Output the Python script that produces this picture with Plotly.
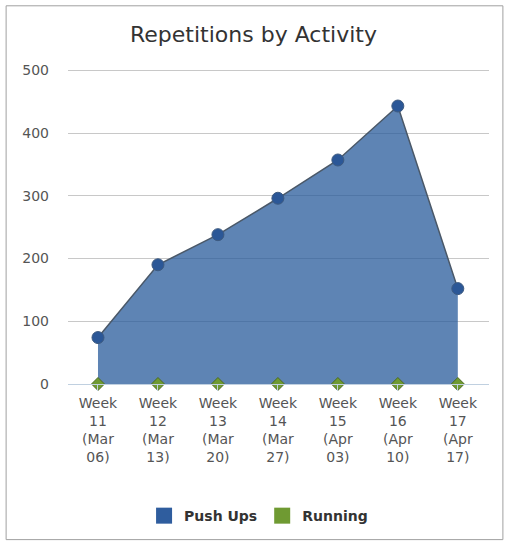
import plotly.graph_objects as go

# Weekly data
weeks = ["Week 11", "Week 12", "Week 13", "Week 14", "Week 15", "Week 16", "Week 17"]
week_dates = ["(Mar 06)", "(Mar 13)", "(Mar 20)", "(Mar 27)", "(Apr 03)", "(Apr 10)", "(Apr 17)"]
push_ups = [74, 190, 238, 296, 357, 443, 152]
running = [0, 0, 0, 0, 0, 0, 0]
y_ticks = [0, 100, 200, 300, 400, 500]

# wrapped tick labels, one word per line like the original
tick_labels = ["<br>".join(w.split() + d.split()) for w, d in zip(weeks, week_dates)]
x_pos = list(range(len(weeks)))

fig = go.Figure()

# Push Ups area
fig.add_trace(go.Scatter(
    x=x_pos, y=push_ups, name="Push Ups", mode="lines+markers",
    fill="tozeroy", fillcolor="rgba(40,91,155,0.75)",
    line=dict(color="#4a5868", width=1.5),
    marker=dict(color="#2b5797", size=12, line=dict(color="#3d5a80", width=1)),
    showlegend=False, cliponaxis=False,
))
# Running (all zero)
fig.add_trace(go.Scatter(
    x=x_pos, y=running, name="Running", mode="markers",
    marker=dict(color="#6f9a32", symbol="diamond", size=10, line=dict(color="#4d6b22", width=1)),
    showlegend=False, cliponaxis=False,
))

# legend-only entries so the legend shows big squares
fig.add_trace(go.Scatter(x=[None], y=[None], name="Push Ups", mode="markers",
                         marker=dict(symbol="square", size=16, color="#2f5d9e")))
fig.add_trace(go.Scatter(x=[None], y=[None], name="Running", mode="markers",
                         marker=dict(symbol="square", size=16, color="#6f9a32")))

fig.update_layout(
    width=507, height=549,
    paper_bgcolor="white", plot_bgcolor="white",
    margin=dict(l=68, r=18, t=69, b=165),
    font=dict(family="DejaVu Sans", color="#555555", size=14),
    title=dict(
        text="Repetitions by Activity",
        x=0.5, xref="container", xanchor="center",
        y=0.938, yref="container", yanchor="middle",
        font=dict(family="DejaVu Sans", size=22, color="#333333"),
    ),
    legend=dict(
        orientation="h", xref="container", yref="container",
        x=0.51, xanchor="center", y=0.06, yanchor="middle",
        font=dict(size=14, color="#333333", weight="bold"),
        itemwidth=30, bgcolor="rgba(0,0,0,0)",
    ),
    shapes=[dict(
        type="rect", xref="paper", yref="paper",
        x0=-0.147, x1=1.033, y0=-0.494, y1=1.2006,
        line=dict(color="#a0a0a0", width=1), layer="below",
    )],
    showlegend=True,
)

fig.update_xaxes(
    tickmode="array", tickvals=x_pos, ticktext=tick_labels,
    range=[-0.5, 6.52], showgrid=False, zeroline=False,
    showline=True, linecolor="#c0d0e0", linewidth=1,
    ticks="outside", ticklen=6, tickcolor="#c0d0e0",
    tickfont=dict(size=14, color="#555555"),
)
fig.update_yaxes(
    range=[0, 502], tickvals=y_ticks, showgrid=True,
    gridcolor="#c8c8c8", gridwidth=1, zeroline=False,
    ticklabelstandoff=18, tickfont=dict(size=14, color="#555555"),
)

# drop the default page margin so the figure sits at the window corner
fig.write_html("out.html", config={"displayModeBar": False},
               post_script="document.body.style.margin='0';")
